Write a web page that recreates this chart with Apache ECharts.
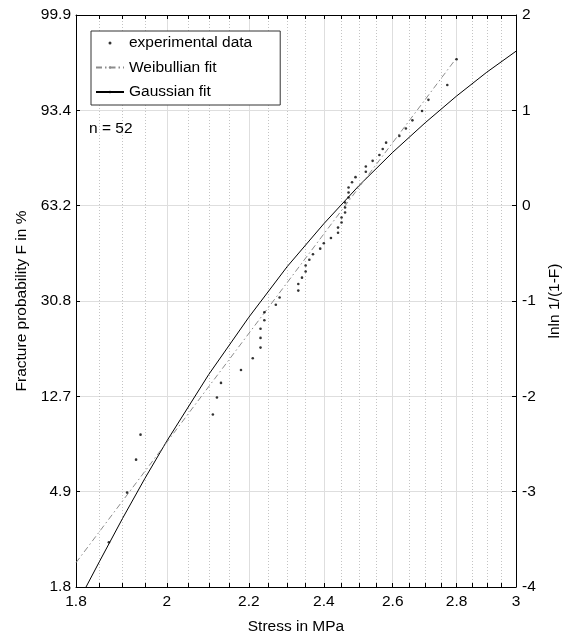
<!DOCTYPE html>
<html><head><meta charset="utf-8">
<script src="https://cdn.jsdelivr.net/npm/echarts@6/dist/echarts.min.js"></script>
<style>html,body{margin:0;padding:0;background:#fff}#c{width:565px;height:637px}</style>
</head><body><div id="c"></div>
<script>
// experimental data (stress in MPa, lnln 1/(1-F))
const stress = [1.87, 1.91, 1.93, 1.94, 2.11, 2.12, 2.13, 2.18, 2.21, 2.23, 2.23, 2.23, 2.24, 2.24, 2.27, 2.28,
  2.33, 2.33, 2.34, 2.35, 2.35, 2.36, 2.37, 2.39, 2.40, 2.42, 2.44, 2.44, 2.45, 2.45, 2.46, 2.46, 2.46,
  2.47, 2.47, 2.47, 2.48, 2.49, 2.52, 2.52, 2.54, 2.56, 2.57, 2.58, 2.62, 2.64, 2.66, 2.69, 2.71, 2.77, 2.80];
const lnln = [-3.531, -3.010, -2.664, -2.402, -2.191, -2.013, -1.859, -1.723, -1.601, -1.489, -1.387, -1.291,
  -1.202, -1.118, -1.039, -0.963, -0.891, -0.822, -0.755, -0.691, -0.628, -0.568, -0.509, -0.451, -0.394,
  -0.339, -0.284, -0.230, -0.177, -0.124, -0.072, -0.019, 0.033, 0.085, 0.138, 0.191, 0.245, 0.299, 0.355,
  0.411, 0.470, 0.531, 0.594, 0.661, 0.732, 0.809, 0.895, 0.993, 1.110, 1.266, 1.536];
// Weibullian fit (straight line)
const weibullX = [1.8, 2.8];
const weibullY = [-3.745, 1.55];
// Gaussian fit
const gaussX = [1.82, 1.85, 1.9, 1.95, 2.0, 2.1, 2.2, 2.3, 2.4, 2.5, 2.6, 2.7, 2.8, 2.9, 3.0];
const gaussY = [-4.01, -3.73, -3.28, -2.86, -2.47, -1.77, -1.17, -0.64, -0.19, 0.21, 0.56, 0.87, 1.15, 1.40, 1.62];
// axes
const xTicks = [1.8, 2, 2.2, 2.4, 2.6, 2.8, 3];
const xMinorTicks = [1.85, 1.9, 1.95, 2.05, 2.1, 2.15, 2.25, 2.3, 2.35, 2.45, 2.5, 2.55, 2.65, 2.7, 2.75, 2.85, 2.9, 2.95];
const yTicks = [-4, -3, -2, -1, 0, 1, 2];
const fLabels = ['1.8', '4.9', '12.7', '30.8', '63.2', '93.4', '99.9'];

const FONT = 'Liberation Sans, Arial, Helvetica, sans-serif';
const FS = 15.5;
const zip = (a, b) => a.map((v, i) => [v, b[i]]);
const fmtX = v => { const r = Math.round(v * 100) / 100; const k = xTicks.find(t => Math.abs(t - r) < 1e-6); return k === undefined ? '' : String(k); };

const chart = echarts.init(document.getElementById('c'), null, {renderer: 'canvas'});
const xBase = {type: 'log', logBase: 10, min: 1.8, max: 3, gridIndex: 0};
chart.setOption({
  animation: false,
  backgroundColor: '#fff',
  textStyle: {fontFamily: FONT},
  grid: {left: 76, right: 49, top: 15, bottom: 50, containLabel: false, outerBoundsMode: 'none'},
  title: {text: 'n = 52', left: 89, top: 121, padding: 0,
    textStyle: {fontSize: FS, fontWeight: 'normal', color: '#000', fontFamily: FONT}},
  legend: {
    left: 91, top: 31, orient: 'vertical', selectedMode: false,
    data: ['experimental data', 'Weibullian fit', 'Gaussian fit'],
    itemWidth: 28, itemHeight: 3, itemGap: 8.5,
    borderColor: '#333', borderWidth: 1, padding: [4, 28, 5, 4], backgroundColor: '#fff',
    textStyle: {fontSize: FS, color: '#000', fontFamily: FONT}
  },
  xAxis: [
    Object.assign({}, xBase, {
      position: 'bottom',
      name: 'Stress in MPa', nameLocation: 'middle', nameGap: 32,
      nameTextStyle: {fontSize: FS, color: '#000', fontFamily: FONT},
      axisLine: {show: true, onZero: false, lineStyle: {color: '#000', width: 1}},
      axisTick: {show: true, inside: true, length: 4, customValues: xTicks, lineStyle: {color: '#000'}},
      axisLabel: {show: true, margin: 7, customValues: xTicks, formatter: fmtX, color: '#000', fontSize: FS, fontFamily: FONT},
      splitLine: {show: true, lineStyle: {color: '#dedede', width: 1}}
    }),
    Object.assign({}, xBase, {
      position: 'bottom',
      axisLine: {show: false, onZero: false},
      axisTick: {show: true, inside: true, length: 4, customValues: xMinorTicks, lineStyle: {color: '#000'}},
      axisLabel: {show: false},
      splitLine: {show: true, lineStyle: {color: '#c4c4c4', width: 1, type: [1, 2]}}
    }),
    Object.assign({}, xBase, {
      position: 'top',
      axisLine: {show: true, onZero: false, lineStyle: {color: '#000', width: 1}},
      axisTick: {show: true, inside: true, length: 4, customValues: xTicks.concat(xMinorTicks), lineStyle: {color: '#000'}},
      axisLabel: {show: false},
      splitLine: {show: false}
    })
  ],
  yAxis: [
    {
      type: 'value', min: -4, max: 2, interval: 1, position: 'left',
      name: 'Fracture probability F in %', nameLocation: 'middle', nameGap: 40, nameRotate: 90,
      nameTextStyle: {fontSize: FS, color: '#000', fontFamily: FONT},
      axisLine: {show: true, onZero: false, lineStyle: {color: '#000', width: 1}},
      axisTick: {show: true, inside: true, length: 4, lineStyle: {color: '#000'}},
      axisLabel: {margin: 5, color: '#000', fontSize: FS, fontFamily: FONT,
        formatter: v => fLabels[yTicks.indexOf(Math.round(v))]},
      splitLine: {show: true, lineStyle: {color: '#dedede', width: 1}}
    },
    {
      type: 'value', min: -4, max: 2, interval: 1, position: 'right',
      name: 'lnln 1/(1-F)', nameLocation: 'middle', nameGap: 25, nameRotate: 90,
      nameTextStyle: {fontSize: FS, color: '#000', fontFamily: FONT},
      axisLine: {show: true, onZero: false, lineStyle: {color: '#000', width: 1}},
      axisTick: {show: true, inside: true, length: 4, lineStyle: {color: '#000'}},
      axisLabel: {margin: 6, color: '#000', fontSize: FS, fontFamily: FONT},
      splitLine: {show: false}
    }
  ],
  series: [
    {
      name: 'Gaussian fit', type: 'line', xAxisIndex: 0, yAxisIndex: 0,
      data: zip(gaussX, gaussY), showSymbol: false, symbol: 'none', smooth: false,
      lineStyle: {color: '#000', width: 1}, itemStyle: {color: '#000'}, z: 3
    },
    {
      name: 'Weibullian fit', type: 'line', xAxisIndex: 0, yAxisIndex: 0,
      data: zip(weibullX, weibullY), showSymbol: false, symbol: 'none',
      lineStyle: {color: '#8c8c8c', width: 1, type: [6, 3, 1.5, 3]}, itemStyle: {color: '#8c8c8c'}, z: 3
    },
    {
      name: 'experimental data', type: 'scatter', xAxisIndex: 0, yAxisIndex: 0,
      data: zip(stress, lnln), symbol: 'circle', symbolSize: 2.6,
      itemStyle: {color: '#000'}, z: 4
    }
  ]
});
</script>
</body></html>
